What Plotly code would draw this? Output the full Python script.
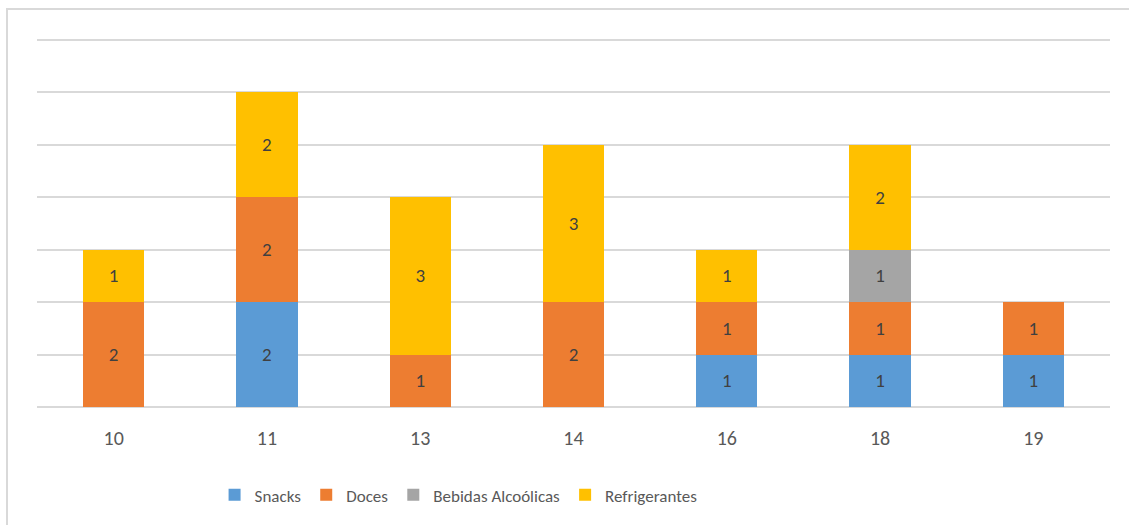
import plotly.graph_objects as go

categories = ["10", "11", "13", "14", "16", "18", "19"]
snacks = [None, 2, None, None, 1, 1, 1]
doces = [2, 2, 1, 2, 1, 1, 1]
bebidas = [None, None, None, None, None, 1, None]
refrigerantes = [1, 2, 3, 3, 1, 2, None]

series = [
    ("Snacks", snacks, "#5B9BD5"),
    ("Doces", doces, "#ED7D31"),
    ("Bebidas Alcoólicas", bebidas, "#A5A5A5"),
    ("Refrigerantes", refrigerantes, "#FFC000"),
]

FONT = "Carlito, Calibri, Lato, sans-serif"

fig = go.Figure()
for name, vals, color in series:
    fig.add_trace(go.Bar(
        x=categories, y=vals, name=name,
        marker=dict(color=color, line=dict(width=0)),
        text=[str(v) if v is not None else "" for v in vals],
        textposition="inside", insidetextanchor="middle",
        textfont=dict(color="#404040", size=19, family=FONT),
        hoverinfo="x+y+name",
    ))

fig.update_layout(
    barmode="stack",
    bargap=0.6,
    width=1129, height=525,
    margin=dict(l=37, r=19, t=39, b=118),
    paper_bgcolor="white", plot_bgcolor="white",
    font=dict(family=FONT, color="#595959", size=17),
    xaxis=dict(type="category", showgrid=False, showline=False, ticks="",
               ticklabelstandoff=17,
               tickfont=dict(size=20, color="#595959", family=FONT)),
    yaxis=dict(range=[0, 7.02], dtick=1, showticklabels=False, showgrid=True,
               gridcolor="#D9D9D9", gridwidth=1.5, zeroline=True,
               zerolinecolor="#D9D9D9", zerolinewidth=1.5, showline=False),
    legend=dict(orientation="h", x=0.3929, xanchor="center", y=-0.24, yanchor="middle",
                font=dict(size=17, color="#595959", family=FONT), traceorder="normal",
                itemwidth=30),
    showlegend=True,
    shapes=[dict(type="rect", xref="paper", yref="paper",
                 x0=-30/1073, x1=1.2, y0=-0.6, y1=1 + 30/368,
                 line=dict(color="#D9D9D9", width=2), fillcolor="rgba(0,0,0,0)", layer="below")],
)

fig.write_html("out.html", config={"displayModeBar": False},
               post_script="document.body.style.margin='0';")
